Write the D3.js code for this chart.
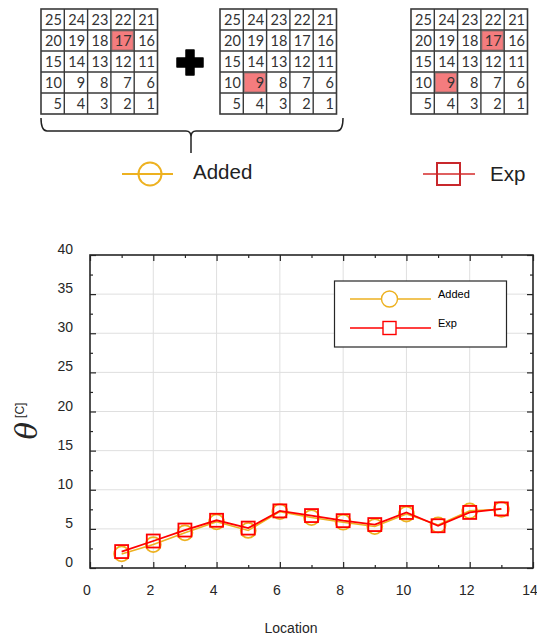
<!DOCTYPE html>
<html>
<head>
<meta charset="utf-8">
<script src="https://cdn.jsdelivr.net/npm/d3@7"></script>
<style>
  html, body { margin: 0; padding: 0; background: #fff; }
  svg { display: block; }
</style>
</head>
<body>
<svg id="chart" width="537" height="639"></svg>
<script>
// Sensor locations and temperature rise at each one
const locations = [1, 2, 3, 4, 5, 6, 7, 8, 9, 10, 11, 12, 13];
const addedValues = [1.8, 3.0, 4.5, 5.9, 4.8, 7.2, 6.45, 5.85, 5.3, 6.9, 5.5, 7.3, 7.5];
const expValues = [2.1, 3.45, 4.85, 6.1, 5.1, 7.3, 6.7, 6.05, 5.55, 7.1, 5.4, 7.1, 7.55];
const seriesNames = ["Added", "Exp"];
const xTicks = [0, 2, 4, 6, 8, 10, 12, 14];
const yTicks = [0, 5, 10, 15, 20, 25, 30, 35, 40];

// Sensor grid numbering (top row first) and highlighted heat sources
const gridRows = [
  [25, 24, 23, 22, 21],
  [20, 19, 18, 17, 16],
  [15, 14, 13, 12, 11],
  [10, 9, 8, 7, 6],
  [5, 4, 3, 2, 1]
];
const panelSources = [[17], [9], [17, 9]];

const svg = d3.select("#chart");
const gold = "#EDB120";
const red = "#FF0000";
const axisColor = "#262626";
const font = "'Liberation Sans', Arial, sans-serif";

// ---------- sensor grid panels ----------
const panelX = [41, 220, 411];
const cellW = 23.3, cellH = 21, gridTop = 9;

panelX.forEach((px, pi) => {
  const g = svg.append("g").attr("transform", `translate(${px},${gridTop})`);
  const cells = [];
  gridRows.forEach((row, r) => row.forEach((n, c) => cells.push({ n, r, c })));
  g.selectAll("rect.hl")
    .data(cells.filter(d => panelSources[pi].includes(d.n)))
    .join("rect")
    .attr("x", d => d.c * cellW + 1)
    .attr("y", d => d.r * cellH + 1)
    .attr("width", cellW - 2)
    .attr("height", cellH - 2)
    .attr("fill", "#F47C7E")
    .attr("stroke", "#8a6a6a")
    .attr("stroke-width", 0.8);
  // inner grid lines
  for (let i = 1; i < 5; i++) {
    g.append("line").attr("x1", i * cellW).attr("x2", i * cellW)
      .attr("y1", 0).attr("y2", 5 * cellH)
      .attr("stroke", "#3a3a3a").attr("stroke-width", 1.4);
    g.append("line").attr("x1", 0).attr("x2", 5 * cellW)
      .attr("y1", i * cellH).attr("y2", i * cellH)
      .attr("stroke", "#3a3a3a").attr("stroke-width", 1.4);
  }
  g.append("rect").attr("width", 5 * cellW).attr("height", 5 * cellH)
    .attr("fill", "none").attr("stroke", "#3a3a3a").attr("stroke-width", 1.6);
  g.selectAll("text.num")
    .data(cells)
    .join("text")
    .attr("x", d => (d.c + 1) * cellW - 2.5)
    .attr("y", d => d.r * cellH + cellH / 2 + 5)
    .attr("text-anchor", "end")
    .attr("font-family", "Lato, 'Open Sans', sans-serif")
    .attr("font-size", 14.5)
    .attr("fill", "#333")
    .text(d => d.n);
});

// plus sign between the first two panels
svg.append("path")
  .attr("d", "M186,50 h8 v8 h9 v9 h-9 v8 h-8 v-8 h-9 v-9 h9 z")
  .attr("fill", "#000")
  .attr("stroke", "#000")
  .attr("stroke-width", 1.5)
  .attr("stroke-linejoin", "round");

// brace under the two combined panels
svg.append("path")
  .attr("d", "M41,118 Q41,131 47,131 L186,131 Q191,131 191,137 L191,153 M191,137 Q191,131 196,131 L337,131 Q343,131 343,118")
  .attr("fill", "none")
  .attr("stroke", "#222")
  .attr("stroke-width", 1.5);

// legend entries under the panels
const topLegend = svg.append("g");
topLegend.append("line").attr("x1", 122).attr("x2", 173).attr("y1", 174).attr("y2", 174)
  .attr("stroke", gold).attr("stroke-width", 2);
topLegend.append("circle").attr("cx", 150).attr("cy", 174).attr("r", 11.5)
  .attr("fill", "none").attr("stroke", gold).attr("stroke-width", 2);
topLegend.append("text").attr("x", 193).attr("y", 179)
  .attr("font-family", font).attr("font-size", 20.5).attr("fill", "#222").text(seriesNames[0]);
topLegend.append("line").attr("x1", 423).attr("x2", 475).attr("y1", 174).attr("y2", 174)
  .attr("stroke", "#D42A2A").attr("stroke-width", 1.5);
topLegend.append("rect").attr("x", 437).attr("y", 163).attr("width", 23).attr("height", 22)
  .attr("fill", "none").attr("stroke", "#C8282C").attr("stroke-width", 2);
topLegend.append("text").attr("x", 490).attr("y", 181)
  .attr("font-family", font).attr("font-size", 20.5).attr("fill", "#222").text(seriesNames[1]);

// ---------- line chart ----------
const plotLeft = 90, plotRight = 533, plotTop = 255, plotBottom = 568;
const x = d3.scaleLinear().domain([0, 14]).range([plotLeft, plotRight]);
const y = d3.scaleLinear().domain([0, 40]).range([plotBottom, plotTop]);

// grid lines
svg.append("g")
  .selectAll("line")
  .data(xTicks.slice(1, -1))
  .join("line")
  .attr("x1", d => x(d)).attr("x2", d => x(d))
  .attr("y1", plotTop).attr("y2", plotBottom)
  .attr("stroke", "#DFDFDF").attr("stroke-width", 1);
svg.append("g")
  .selectAll("line")
  .data(yTicks.slice(1, -1))
  .join("line")
  .attr("x1", plotLeft).attr("x2", plotRight)
  .attr("y1", d => y(d)).attr("y2", d => y(d))
  .attr("stroke", "#DFDFDF").attr("stroke-width", 1);

// axes with inward ticks on all four sides
const xMinor = d3.range(1, 14, 2);
const yMinor = d3.range(2.5, 40, 5);
function tickAxis(axisGen, transform) {
  const g = svg.append("g").attr("transform", transform).call(axisGen);
  g.selectAll("text").remove();
  g.select(".domain").remove();
  g.selectAll("line").attr("stroke", axisColor).attr("stroke-width", 1.2);
  return g;
}
tickAxis(d3.axisBottom(x).tickValues(xTicks).tickSizeInner(-6).tickSizeOuter(0), `translate(0,${plotBottom})`);
tickAxis(d3.axisBottom(x).tickValues(xMinor).tickSizeInner(-3).tickSizeOuter(0), `translate(0,${plotBottom})`);
tickAxis(d3.axisTop(x).tickValues(xTicks).tickSizeInner(-6).tickSizeOuter(0), `translate(0,${plotTop})`);
tickAxis(d3.axisTop(x).tickValues(xMinor).tickSizeInner(-3).tickSizeOuter(0), `translate(0,${plotTop})`);
tickAxis(d3.axisLeft(y).tickValues(yTicks).tickSizeInner(-6).tickSizeOuter(0), `translate(${plotLeft},0)`);
tickAxis(d3.axisLeft(y).tickValues(yMinor).tickSizeInner(-3).tickSizeOuter(0), `translate(${plotLeft},0)`);
tickAxis(d3.axisRight(y).tickValues(yTicks).tickSizeInner(-6).tickSizeOuter(0), `translate(${plotRight},0)`);
tickAxis(d3.axisRight(y).tickValues(yMinor).tickSizeInner(-3).tickSizeOuter(0), `translate(${plotRight},0)`);

svg.append("rect")
  .attr("x", plotLeft).attr("y", plotTop)
  .attr("width", plotRight - plotLeft).attr("height", plotBottom - plotTop)
  .attr("fill", "none").attr("stroke", axisColor).attr("stroke-width", 1.6);

// tick labels
svg.append("g").selectAll("text")
  .data(xTicks)
  .join("text")
  .attr("x", d => x(d) - 3)
  .attr("y", 595)
  .attr("text-anchor", "middle")
  .attr("font-family", font).attr("font-size", 14).attr("fill", "#262626")
  .text(d => d);
svg.append("g").selectAll("text")
  .data(yTicks)
  .join("text")
  .attr("x", 73)
  .attr("y", d => y(d) - 1)
  .attr("text-anchor", "end")
  .attr("font-family", font).attr("font-size", 14).attr("fill", "#262626")
  .text(d => d);

// axis titles
svg.append("text")
  .attr("x", 291).attr("y", 633)
  .attr("text-anchor", "middle")
  .attr("font-family", font).attr("font-size", 14).attr("fill", "#262626")
  .text("Location");
const yTitle = svg.append("text")
  .attr("transform", "translate(37,421) rotate(-90)")
  .attr("text-anchor", "middle")
  .attr("fill", "#262626");
yTitle.append("tspan")
  .attr("font-family", "'DejaVu Serif', 'Liberation Serif', serif")
  .attr("font-style", "italic").attr("font-size", 29).text("θ");
yTitle.append("tspan")
  .attr("font-family", font).attr("font-size", 12).attr("dx", 4).attr("dy", -13).text("[C]");

// data series
const line = d3.line().x((d, i) => x(locations[i])).y(d => y(d));
svg.append("path").datum(addedValues).attr("d", line)
  .attr("fill", "none").attr("stroke", gold).attr("stroke-width", 1.6);
svg.append("g").selectAll("circle")
  .data(addedValues)
  .join("circle")
  .attr("cx", (d, i) => x(locations[i]))
  .attr("cy", d => y(d))
  .attr("r", 7.5)
  .attr("fill", "none").attr("stroke", gold).attr("stroke-width", 1.8);
svg.append("path").datum(expValues).attr("d", line)
  .attr("fill", "none").attr("stroke", red).attr("stroke-width", 1.8);
svg.append("g").selectAll("rect")
  .data(expValues)
  .join("rect")
  .attr("x", (d, i) => x(locations[i]) - 6.5)
  .attr("y", d => y(d) - 6.5)
  .attr("width", 13).attr("height", 13)
  .attr("fill", "none").attr("stroke", red).attr("stroke-width", 1.8);

// legend inside the plot
const lg = svg.append("g");
lg.append("rect").attr("x", 334.5).attr("y", 281).attr("width", 172).attr("height", 66)
  .attr("fill", "#fff").attr("stroke", axisColor).attr("stroke-width", 1.2);
lg.append("line").attr("x1", 350).attr("x2", 431).attr("y1", 299).attr("y2", 299)
  .attr("stroke", gold).attr("stroke-width", 1.4);
lg.append("circle").attr("cx", 389.5).attr("cy", 299).attr("r", 8)
  .attr("fill", "#fff").attr("stroke", gold).attr("stroke-width", 1.4);
lg.append("text").attr("x", 438).attr("y", 298)
  .attr("font-family", font).attr("font-size", 11).attr("fill", "#000").text(seriesNames[0]);
lg.append("line").attr("x1", 350).attr("x2", 431).attr("y1", 328).attr("y2", 328)
  .attr("stroke", red).attr("stroke-width", 1.4);
lg.append("rect").attr("x", 383).attr("y", 321.5).attr("width", 13).attr("height", 13)
  .attr("fill", "#fff").attr("stroke", red).attr("stroke-width", 1.4);
lg.append("text").attr("x", 438).attr("y", 327)
  .attr("font-family", font).attr("font-size", 11).attr("fill", "#000").text(seriesNames[1]);
</script>
</body>
</html>
